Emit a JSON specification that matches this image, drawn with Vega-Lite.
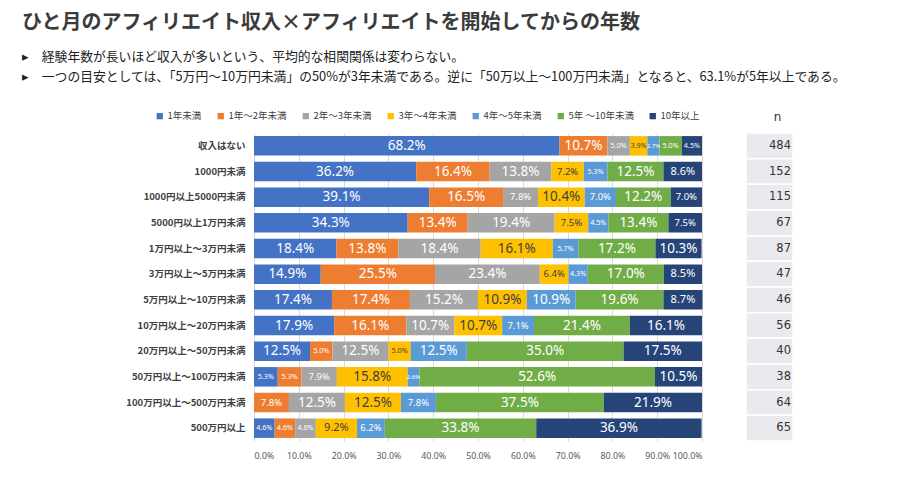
{
  "$schema": "https://vega.github.io/schema/vega-lite/v6.json",
  "background": "white",
  "padding": {"left": 22, "top": 13, "right": 12, "bottom": 12},
  "title": {
    "text": "ひと月のアフィリエイト収入×アフィリエイトを開始してからの年数",
    "subtitle": ["\u2002▸\u2003経験年数が長いほど収入が多いという、平均的な相関関係は変わらない。", "\u2002▸\u2003一つの目安としては、「5万円～10万円未満」の50%が3年未満である。逆に「50万以上～100万円未満」となると、63.1%が5年以上である。"],
    "anchor": "start",
    "frame": "group",
    "dx": -232,
    "font": "Noto Sans CJK JP",
    "fontSize": 20,
    "fontWeight": "bold",
    "color": "#3b3b3b",
    "subtitleFont": "Noto Sans CJK JP",
    "subtitleFontSize": 12.8,
    "subtitleColor": "#222222",
    "subtitleLineHeight": 20,
    "subtitlePadding": 18,
    "offset": 27
  },
  "datasets": {
    "d": [
      {"r": "収入はない", "c": "1年未満", "v": 0.682},
      {"r": "収入はない", "c": "1年～2年未満", "v": 0.107},
      {"r": "収入はない", "c": "2年～3年未満", "v": 0.050},
      {"r": "収入はない", "c": "3年～4年未満", "v": 0.039},
      {"r": "収入はない", "c": "4年～5年未満", "v": 0.027},
      {"r": "収入はない", "c": "5年 ～10年未満", "v": 0.050},
      {"r": "収入はない", "c": "10年以上", "v": 0.045},
      {"r": "1000円未満", "c": "1年未満", "v": 0.362},
      {"r": "1000円未満", "c": "1年～2年未満", "v": 0.164},
      {"r": "1000円未満", "c": "2年～3年未満", "v": 0.138},
      {"r": "1000円未満", "c": "3年～4年未満", "v": 0.072},
      {"r": "1000円未満", "c": "4年～5年未満", "v": 0.053},
      {"r": "1000円未満", "c": "5年 ～10年未満", "v": 0.125},
      {"r": "1000円未満", "c": "10年以上", "v": 0.086},
      {"r": "1000円以上5000円未満", "c": "1年未満", "v": 0.391},
      {"r": "1000円以上5000円未満", "c": "1年～2年未満", "v": 0.165},
      {"r": "1000円以上5000円未満", "c": "2年～3年未満", "v": 0.078},
      {"r": "1000円以上5000円未満", "c": "3年～4年未満", "v": 0.104},
      {"r": "1000円以上5000円未満", "c": "4年～5年未満", "v": 0.070},
      {"r": "1000円以上5000円未満", "c": "5年 ～10年未満", "v": 0.122},
      {"r": "1000円以上5000円未満", "c": "10年以上", "v": 0.070},
      {"r": "5000円以上1万円未満", "c": "1年未満", "v": 0.343},
      {"r": "5000円以上1万円未満", "c": "1年～2年未満", "v": 0.134},
      {"r": "5000円以上1万円未満", "c": "2年～3年未満", "v": 0.194},
      {"r": "5000円以上1万円未満", "c": "3年～4年未満", "v": 0.075},
      {"r": "5000円以上1万円未満", "c": "4年～5年未満", "v": 0.045},
      {"r": "5000円以上1万円未満", "c": "5年 ～10年未満", "v": 0.134},
      {"r": "5000円以上1万円未満", "c": "10年以上", "v": 0.075},
      {"r": "1万円以上～3万円未満", "c": "1年未満", "v": 0.184},
      {"r": "1万円以上～3万円未満", "c": "1年～2年未満", "v": 0.138},
      {"r": "1万円以上～3万円未満", "c": "2年～3年未満", "v": 0.184},
      {"r": "1万円以上～3万円未満", "c": "3年～4年未満", "v": 0.161},
      {"r": "1万円以上～3万円未満", "c": "4年～5年未満", "v": 0.057},
      {"r": "1万円以上～3万円未満", "c": "5年 ～10年未満", "v": 0.172},
      {"r": "1万円以上～3万円未満", "c": "10年以上", "v": 0.103},
      {"r": "3万円以上～5万円未満", "c": "1年未満", "v": 0.149},
      {"r": "3万円以上～5万円未満", "c": "1年～2年未満", "v": 0.255},
      {"r": "3万円以上～5万円未満", "c": "2年～3年未満", "v": 0.234},
      {"r": "3万円以上～5万円未満", "c": "3年～4年未満", "v": 0.064},
      {"r": "3万円以上～5万円未満", "c": "4年～5年未満", "v": 0.043},
      {"r": "3万円以上～5万円未満", "c": "5年 ～10年未満", "v": 0.170},
      {"r": "3万円以上～5万円未満", "c": "10年以上", "v": 0.085},
      {"r": "5万円以上～10万円未満", "c": "1年未満", "v": 0.174},
      {"r": "5万円以上～10万円未満", "c": "1年～2年未満", "v": 0.174},
      {"r": "5万円以上～10万円未満", "c": "2年～3年未満", "v": 0.152},
      {"r": "5万円以上～10万円未満", "c": "3年～4年未満", "v": 0.109},
      {"r": "5万円以上～10万円未満", "c": "4年～5年未満", "v": 0.109},
      {"r": "5万円以上～10万円未満", "c": "5年 ～10年未満", "v": 0.196},
      {"r": "5万円以上～10万円未満", "c": "10年以上", "v": 0.087},
      {"r": "10万円以上～20万円未満", "c": "1年未満", "v": 0.179},
      {"r": "10万円以上～20万円未満", "c": "1年～2年未満", "v": 0.161},
      {"r": "10万円以上～20万円未満", "c": "2年～3年未満", "v": 0.107},
      {"r": "10万円以上～20万円未満", "c": "3年～4年未満", "v": 0.107},
      {"r": "10万円以上～20万円未満", "c": "4年～5年未満", "v": 0.071},
      {"r": "10万円以上～20万円未満", "c": "5年 ～10年未満", "v": 0.214},
      {"r": "10万円以上～20万円未満", "c": "10年以上", "v": 0.161},
      {"r": "20万円以上～50万円未満", "c": "1年未満", "v": 0.125},
      {"r": "20万円以上～50万円未満", "c": "1年～2年未満", "v": 0.050},
      {"r": "20万円以上～50万円未満", "c": "2年～3年未満", "v": 0.125},
      {"r": "20万円以上～50万円未満", "c": "3年～4年未満", "v": 0.050},
      {"r": "20万円以上～50万円未満", "c": "4年～5年未満", "v": 0.125},
      {"r": "20万円以上～50万円未満", "c": "5年 ～10年未満", "v": 0.350},
      {"r": "20万円以上～50万円未満", "c": "10年以上", "v": 0.175},
      {"r": "50万円以上～100万円未満", "c": "1年未満", "v": 0.053},
      {"r": "50万円以上～100万円未満", "c": "1年～2年未満", "v": 0.053},
      {"r": "50万円以上～100万円未満", "c": "2年～3年未満", "v": 0.079},
      {"r": "50万円以上～100万円未満", "c": "3年～4年未満", "v": 0.158},
      {"r": "50万円以上～100万円未満", "c": "4年～5年未満", "v": 0.026},
      {"r": "50万円以上～100万円未満", "c": "5年 ～10年未満", "v": 0.526},
      {"r": "50万円以上～100万円未満", "c": "10年以上", "v": 0.105},
      {"r": "100万円以上～500万円未満", "c": "1年未満", "v": 0},
      {"r": "100万円以上～500万円未満", "c": "1年～2年未満", "v": 0.078},
      {"r": "100万円以上～500万円未満", "c": "2年～3年未満", "v": 0.125},
      {"r": "100万円以上～500万円未満", "c": "3年～4年未満", "v": 0.125},
      {"r": "100万円以上～500万円未満", "c": "4年～5年未満", "v": 0.078},
      {"r": "100万円以上～500万円未満", "c": "5年 ～10年未満", "v": 0.375},
      {"r": "100万円以上～500万円未満", "c": "10年以上", "v": 0.219},
      {"r": "500万円以上", "c": "1年未満", "v": 0.046},
      {"r": "500万円以上", "c": "1年～2年未満", "v": 0.046},
      {"r": "500万円以上", "c": "2年～3年未満", "v": 0.046},
      {"r": "500万円以上", "c": "3年～4年未満", "v": 0.092},
      {"r": "500万円以上", "c": "4年～5年未満", "v": 0.062},
      {"r": "500万円以上", "c": "5年 ～10年未満", "v": 0.338},
      {"r": "500万円以上", "c": "10年以上", "v": 0.369}
    ],
    "ns": [
      {"r": "収入はない", "n": 484},
      {"r": "1000円未満", "n": 152},
      {"r": "1000円以上5000円未満", "n": 115},
      {"r": "5000円以上1万円未満", "n": 67},
      {"r": "1万円以上～3万円未満", "n": 87},
      {"r": "3万円以上～5万円未満", "n": 47},
      {"r": "5万円以上～10万円未満", "n": 46},
      {"r": "10万円以上～20万円未満", "n": 56},
      {"r": "20万円以上～50万円未満", "n": 40},
      {"r": "50万円以上～100万円未満", "n": 38},
      {"r": "100万円以上～500万円未満", "n": 64},
      {"r": "500万円以上", "n": 65}
    ]
  },
  "bounds": "flush",
  "spacing": 44,
  "hconcat": [
    {
      "width": 448,
      "height": 308,
      "data": {"name": "d"},
      "transform": [
        {"stack": "v", "groupby": ["r"], "as": ["x0", "x1"]},
        {"calculate": "(datum.x0 + datum.x1) / 2", "as": "xm"}
      ],
      "encoding": {
        "y": {
          "field": "r",
          "type": "nominal",
          "sort": null,
          "scale": {"paddingInner": 0.24, "paddingOuter": 0.12},
          "axis": {
            "title": null,
            "domain": false,
            "ticks": false,
            "labelPadding": 9,
            "labelFont": "Noto Sans CJK JP",
            "labelFontSize": 9.5,
            "labelFontWeight": "bold",
            "labelColor": "#404040",
            "labelLimit": 200
          }
        }
      },
      "layer": [
        {
          "mark": {"type": "bar"},
          "encoding": {
            "x": {
              "field": "x0",
              "type": "quantitative",
              "scale": {"domain": [0, 1], "nice": false},
              "axis": {
                "title": null,
                "format": ".1%",
                "values": [0, 0.1, 0.2, 0.3, 0.4, 0.5, 0.6, 0.7, 0.8, 0.9, 1.0],
                "labelOverlap": false,
                "domain": false,
                "ticks": false,
                "labelPadding": 10,
                "labelFont": "Noto Sans",
                "labelFontSize": 8.8,
                "labelColor": "#595959",
                "gridColor": "#d9d9d9",
                "gridWidth": 1
              }
            },
            "x2": {"field": "x1"},
            "color": {
              "field": "c",
              "type": "nominal",
              "sort": ["1年未満", "1年～2年未満", "2年～3年未満", "3年～4年未満", "4年～5年未満", "5年 ～10年未満", "10年以上"],
              "scale": {
                "domain": ["1年未満", "1年～2年未満", "2年～3年未満", "3年～4年未満", "4年～5年未満", "5年 ～10年未満", "10年以上"],
                "range": ["#4472C4", "#ED7D31", "#A5A5A5", "#FFC000", "#5B9BD5", "#70AD47", "#264478"]
              },
              "legend": {
                "title": null,
                "orient": "none",
                "legendX": -99,
                "legendY": -22,
                "direction": "horizontal",
                "columns": 7,
                "symbolType": "square",
                "symbolSize": 40,
                "symbolStrokeWidth": 0,
                "labelFont": "Noto Sans CJK JP",
                "labelFontSize": 9.5,
                "labelColor": "#404040",
                "columnPadding": 14,
                "labelOffset": 3
              }
            }
          }
        },
        {
          "transform": [{"filter": "datum.v > 0"}],
          "mark": {"type": "text", "font": "Noto Sans", "baseline": "middle", "align": "center"},
          "encoding": {
            "x": {"field": "xm", "type": "quantitative"},
            "text": {"field": "v", "type": "quantitative", "format": ".1%"},
            "size": {
              "field": "v",
              "type": "quantitative",
              "scale": {"type": "threshold", "domain": [0.03, 0.058, 0.08, 0.10], "range": [6, 7.2, 9.5, 11, 13.5]},
              "legend": null
            },
            "color": {
              "condition": {"test": "datum.c === '3年～4年未満'", "value": "#404040"},
              "value": "#ffffff"
            }
          }
        }
      ]
    },
    {
      "width": 47,
      "height": 308,
      "data": {"name": "ns"},
      "title": {"text": "n", "font": "DejaVu Sans", "fontSize": 12, "fontWeight": "normal", "color": "#333333", "offset": 8, "dx": 8},
      "encoding": {
        "y": {
          "field": "r",
          "type": "nominal",
          "sort": null,
          "scale": {"paddingInner": 0, "paddingOuter": 0},
          "axis": null
        }
      },
      "layer": [
        {
          "mark": {"type": "rect", "fill": "#e8eaee", "stroke": "#ffffff", "strokeWidth": 1.5},
          "encoding": {
            "x": {"datum": 0, "type": "quantitative", "scale": {"domain": [0, 1], "nice": false}, "axis": null},
            "x2": {"datum": 1}
          }
        },
        {
          "mark": {"type": "text", "align": "right", "baseline": "middle", "dx": -2, "font": "DejaVu Sans", "fontSize": 11.5, "color": "#333333"},
          "encoding": {
            "x": {"datum": 1, "type": "quantitative"},
            "text": {"field": "n", "type": "quantitative"}
          }
        }
      ]
    }
  ],
  "config": {"view": {"stroke": null}}
}
